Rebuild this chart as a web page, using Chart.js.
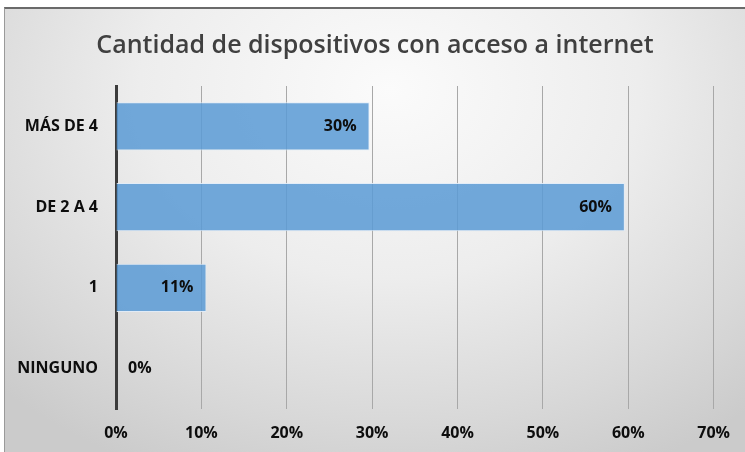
<!DOCTYPE html>
<html>
<head>
<meta charset="utf-8">
<script src="https://cdn.jsdelivr.net/npm/chart.js@4"></script>
<style>
  html,body{margin:0;padding:0;background:#fff;}
  #wrap{position:absolute;left:4px;top:7px;width:741px;height:445px;box-sizing:border-box;
    border-top:2px solid #6a6a6a;border-left:1px solid #9a9a9a;
    background:radial-gradient(ellipse 75% 95% at 52% 18%, #fbfbfb 0%, #ededed 45%, #d8d8d8 80%, #cbcbcb 100%);}
  canvas{display:block;}
</style>
</head>
<body>
<div id="wrap"><canvas id="c" width="740" height="443"></canvas></div>
<script>
// ---------- DATA ----------
const categories = ['MÁS DE 4', 'DE 2 A 4', '1', 'NINGUNO'];
const values = [29.7, 59.6, 10.6, 0];
const valueLabels = ['30%', '60%', '11%', '0%'];
const xTicks = [0, 10, 20, 30, 40, 50, 60, 70];
const titleText = 'Cantidad de dispositivos con acceso a internet';

const FONT = "'Open Sans', 'Noto Sans', sans-serif";

// title centred on the whole canvas (the built-in one is shifted by the right padding)
const centredTitle = {
  id:'centredTitle',
  afterDraw(chart){
    const ctx = chart.ctx;
    ctx.save();
    ctx.font = '600 25px ' + FONT;
    ctx.fillStyle = '#404040';
    ctx.textAlign = 'center';
    ctx.textBaseline = 'middle';
    ctx.fillText(titleText, chart.width/2, 37);
    ctx.restore();
  }
};

// draws the % labels at the end of each bar
const barLabels = {
  id:'barLabels',
  afterDatasetsDraw(chart){
    const ctx = chart.ctx;
    const meta = chart.getDatasetMeta(0);
    ctx.save();
    ctx.font = 'bold 16px ' + FONT;
    ctx.fillStyle = '#0d0d0d';
    ctx.textBaseline = 'middle';
    meta.data.forEach((bar,i)=>{
      const txt = valueLabels[i];
      const w = ctx.measureText(txt).width;
      if(bar.x - bar.base > w + 20){
        ctx.textAlign = 'right';
        ctx.fillText(txt, bar.x - 13, bar.y);
      } else {
        ctx.textAlign = 'left';
        ctx.fillText(txt, bar.base + 12, bar.y);
      }
    });
    ctx.restore();
  }
};

new Chart(document.getElementById('c').getContext('2d'),{
  type:'bar',
  data:{labels:categories,datasets:[{
    data:values,
    backgroundColor:'rgba(91,155,213,0.86)',
    borderColor:'rgba(225,236,248,0.9)',
    borderWidth:c=>c.raw ? 1 : 0,
    categoryPercentage:0.6,
    barPercentage:1
  }]},
  options:{
    indexAxis:'y',
    responsive:false,
    animation:false,
    layout:{padding:{left:0,right:31,top:77,bottom:0}},
    plugins:{
      legend:{display:false},
      tooltip:{enabled:false},
      title:{display:false}
    },
    scales:{
      x:{
        min:0,max:70,
        afterBuildTicks:s=>{ s.ticks = xTicks.map(v=>({value:v})); },
        afterFit:s=>{ s.height = 43; },
        grid:{color:'#a8a8a8',lineWidth:1,drawTicks:false},
        border:{display:false},
        ticks:{padding:15,color:'#0d0d0d',font:{family:FONT,size:16,weight:'bold'},callback:v=>v+'%'}
      },
      y:{
        afterFit:s=>{ s.width = 111; },
        grid:{display:false,drawTicks:false},
        border:{display:true,color:'#3c3c3c',width:3},
        ticks:{padding:18,color:'#0d0d0d',font:{family:FONT,size:16,weight:'bold'}}
      }
    }
  },
  plugins:[barLabels, centredTitle]
});
</script>
</body>
</html>
